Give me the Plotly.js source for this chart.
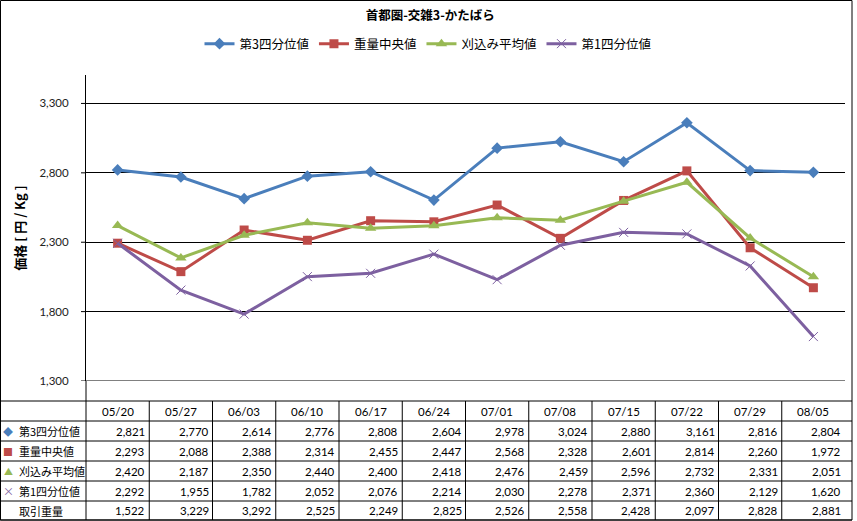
<!DOCTYPE html>
<html>
<head>
<meta charset="utf-8">
<script src="https://cdn.plot.ly/plotly-3.0.1.min.js"></script>
<style>
html,body{margin:0;padding:0;background:#fff;}
#chart{width:857px;height:521px;}
</style>
</head>
<body>
<div id="chart"></div>
<script>
// ---- data ----
const dates = ["05/20","05/27","06/03","06/10","06/17","06/24","07/01","07/08","07/15","07/22","07/29","08/05"];
const q3Name = "第3四分位値";
const q3 = [2821,2770,2614,2776,2808,2604,2978,3024,2880,3161,2816,2804];
const medName = "重量中央値";
const med = [2293,2088,2388,2314,2455,2447,2568,2328,2601,2814,2260,1972];
const avgName = "刈込み平均値";
const avg = [2420,2187,2350,2440,2400,2418,2476,2459,2596,2732,2331,2051];
const q1Name = "第1四分位値";
const q1 = [2292,1955,1782,2052,2076,2214,2030,2278,2371,2360,2129,1620];
const volName = "取引重量";
const vol = [1522,3229,3292,2525,2249,2825,2526,2558,2428,2097,2828,2881];
const yTicks = [1300,1800,2300,2800,3300];
const titleText = "首都圏-交雑3-かたばら";
const yTitle = "価格 [ 円 / Kg ]";

// ---- style ----
const LAT = "Lato, 'Noto Sans CJK JP', sans-serif";
const CJK = "'Noto Sans CJK JP', Lato, sans-serif";
const colors = {q3:"#4A7EBB", med:"#BE4B48", avg:"#98B954", q1:"#7D60A0"};

// plot area in px
const L=86, R=845, T=75, B=381, W=857, H=521;
const pxX = p => (p-L)/(R-L);
const pxY = p => (B-p)/(B-T);

const traces = [
  {name:q3Name, x:dates, y:q3, type:"scatter", mode:"lines+markers",
   line:{color:colors.q3,width:3}, marker:{symbol:"diamond",size:9,color:colors.q3}},
  {name:medName, x:dates, y:med, type:"scatter", mode:"lines+markers",
   line:{color:colors.med,width:3}, marker:{symbol:"square",size:9,color:colors.med}},
  {name:avgName, x:dates, y:avg, type:"scatter", mode:"lines+markers",
   line:{color:colors.avg,width:3}, marker:{symbol:"triangle-up",size:10,color:colors.avg}},
  {name:q1Name, x:dates, y:q1, type:"scatter", mode:"lines+markers",
   line:{color:colors.q1,width:3}, marker:{symbol:"x-thin",size:9,color:colors.q1,line:{color:colors.q1,width:1}}}
];

// table geometry
const rowEdges = [401,421,441,461,481,501,520];
const tableRight = 852;
const shapes = [];
const annotations = [];

// bottom gridline at axis minimum
shapes.push({type:"line", xref:"paper", yref:"y", x0:0, x1:1, y0:yTicks[0], y1:yTicks[0], line:{color:"#000",width:1}, layer:"below"});
// short outside tick marks (5px)
yTicks.forEach(t => {
  shapes.push({type:"line", xref:"paper", yref:"y", x0:pxX(81), x1:0, y0:t, y1:t, line:{color:"#000",width:1}});
});
// horizontal table lines
rowEdges.forEach(yv => {
  shapes.push({type:"line", xref:"paper", yref:"paper", x0:pxX(0), x1:pxX(tableRight), y0:pxY(yv), y1:pxY(yv), line:{color:"#000",width:1}});
});
// vertical table lines at column boundaries
for (let k=1;k<dates.length;k++){
  shapes.push({type:"line", xref:"x", yref:"paper", x0:k-0.5, x1:k-0.5, y0:pxY(rowEdges[0]), y1:pxY(rowEdges[rowEdges.length-1]), line:{color:"#000",width:1}});
}
// left axis line extended down through table
shapes.push({type:"line", xref:"paper", yref:"paper", x0:0, x1:0, y0:pxY(B), y1:pxY(520), line:{color:"#000",width:1}});
// outer border
shapes.push({type:"rect", xref:"paper", yref:"paper", x0:pxX(0.5), x1:pxX(tableRight), y0:pxY(0.5), y1:pxY(520), line:{color:"#000",width:1}, fillcolor:"rgba(0,0,0,0)"});

// header row
const rowC = i => pxY((rowEdges[i]+rowEdges[i+1])/2);
dates.forEach((d,k) => {
  annotations.push({xref:"x", yref:"paper", x:k, y:rowC(0), text:d, showarrow:false, xanchor:"center", yanchor:"middle", font:{family:LAT,size:11.5,color:"#000"}});
});
const fmt = v => v.toLocaleString("en-US");
const rows = [
  {name:q3Name, vals:q3, sym:"◆", col:colors.q3, ss:10},
  {name:medName, vals:med, sym:"■", col:colors.med, ss:10},
  {name:avgName, vals:avg, sym:"▲", col:colors.avg, ss:9},
  {name:q1Name, vals:q1, sym:"×", col:colors.q1, ss:11},
  {name:volName, vals:vol, sym:"", col:"#000", ss:10}
];
rows.forEach((r,i) => {
  const yc = rowC(i+1);
  if (r.sym) annotations.push({xref:"paper", yref:"paper", x:pxX(8), y:yc, text:r.sym, showarrow:false, xanchor:"center", yanchor:"middle", font:{family:CJK,size:r.ss,color:r.col}});
  annotations.push({xref:"paper", yref:"paper", x:pxX(17), y:yc, text:r.name, showarrow:false, xanchor:"left", yanchor:"middle", font:{family:CJK,size:11,color:"#000"}});
  r.vals.forEach((v,k) => {
    annotations.push({xref:"x", yref:"paper", x:k+0.5, xshift:-2, y:yc, text:fmt(v), showarrow:false, xanchor:"right", yanchor:"middle", font:{family:LAT,size:11.5,color:"#000"}});
  });
});

const layout = {
  width:W, height:H,
  margin:{l:L, r:W-R, t:T, b:H-B, pad:0},
  paper_bgcolor:"#fff", plot_bgcolor:"#fff",
  title:{text:"<b>"+titleText+"</b>", x:0.502, xanchor:"center", y:1-16/H, yanchor:"middle", font:{family:CJK,size:12.5,color:"#000"}},
  showlegend:true,
  legend:{orientation:"h", x:pxX(428), xanchor:"center", y:pxY(44), yanchor:"middle", font:{family:CJK,size:12.5,color:"#000"}, itemwidth:30, tracegroupgap:0, bgcolor:"rgba(0,0,0,0)"},
  xaxis:{type:"category", range:[-0.5, dates.length-0.5], showticklabels:false, showgrid:false, zeroline:false, showline:false, ticks:""},
  yaxis:{range:[1300,3505], tickvals:yTicks, tickformat:",d", showgrid:true, gridcolor:"#000", gridwidth:1, zeroline:false,
         showline:true, linecolor:"#000", linewidth:1, ticks:"outside", ticklen:14, tickcolor:"rgba(0,0,0,0)",
         tickfont:{family:LAT,size:11.5,color:"#222"},
         title:{text:"<b>"+yTitle+"</b>", standoff:10, font:{family:CJK,size:13,color:"#000"}}},
  shapes:shapes,
  annotations:annotations
};

Plotly.newPlot("chart", traces, layout, {staticPlot:true, displayModeBar:false});
</script>
</body>
</html>
